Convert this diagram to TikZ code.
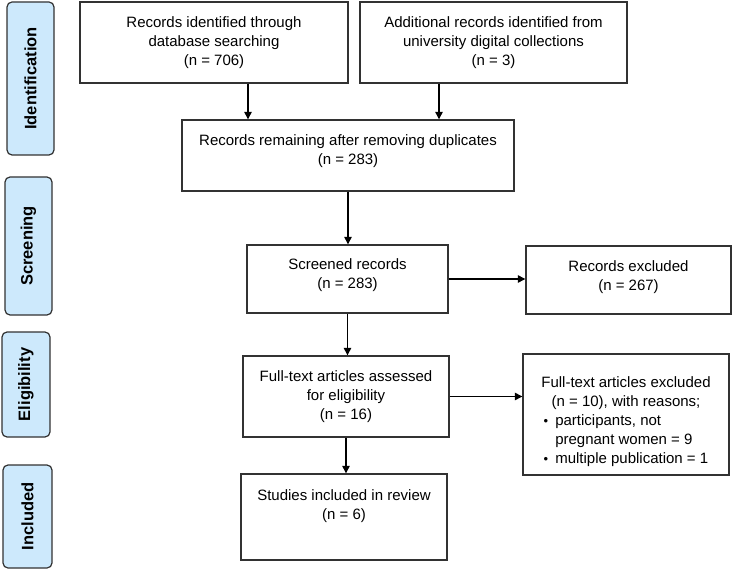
\documentclass[tikz,border=0pt]{standalone}
\usepackage{fontspec}
\setmainfont{Liberation Sans}
\usepackage{tikz}
\usetikzlibrary{arrows.meta,positioning}

\begin{document}
\begin{tikzpicture}[x=1pt, y=-1pt,
    box/.style={draw=boxline, line width=1.4pt, inner sep=0pt},
    boxtext/.style={align=center, inner sep=0pt, font=\fontsize{15}{19}\selectfont},
    stage/.style={draw=boxline, line width=1.2pt, fill=stagecolor, rounded corners=5pt,
        inner sep=0pt, font=\fontsize{16.5}{20}\selectfont\bfseries},
    arrow/.style={line width=1.3pt, -{Triangle[length=7.5pt, width=7.5pt]}}]

% Define colors
\definecolor{boxline}{RGB}{50,50,50}
\definecolor{stagecolor}{RGB}{205,233,252}

\useasboundingbox (0,0) rectangle (733,569);

% Helper for the flow boxes
\newcommand{\flowbox}[7]{%
    % #1 = name, #2/#3 = top left, #4/#5 = bottom right, #6 = text drop, #7 = text
    \node[box, minimum width={#4-#2}, minimum height={#5-#3}] (#1) at ({(#2+#4)/2},{(#3+#5)/2}) {};
    \node[boxtext, anchor=north] (#1-text) at ([yshift=-#6]#1.north) {#7};
}

% Helper for the stage labels on the left
\newcommand{\stagelabel}[6]{%
    % #1 = name, #2/#3 = top left, #4/#5 = bottom right, #6 = text
    \node[stage, rotate=90, minimum width={#5-#3}, minimum height={#4-#2}] (#1) at ({(#2+#4)/2},{(#3+#5)/2}) {#6};
}

% Stage labels
\stagelabel{identification}{7}{2}{54}{155}{Identification}
\stagelabel{screening}{5}{177}{52}{315}{Screening}
\stagelabel{eligibility}{2}{332}{50}{437}{Eligibility}
\stagelabel{included}{3}{465}{52}{568}{Included}

% Draw all boxes
\flowbox{ident}{80}{2}{348}{83}{15}{Records identified through\\database searching\\(n = 706)}
\flowbox{extra}{360}{2}{627}{83}{15}{Additional records identified from\\university digital collections\\(n = 3)}
\flowbox{dedup}{182}{120}{514}{191}{15}{Records remaining after removing duplicates\\(n = 283)}
\flowbox{screen}{247}{245}{448}{313}{14}{Screened records\\(n = 283)}
\flowbox{excl}{526}{246}{731}{314}{15}{Records excluded\\(n = 267)}
\flowbox{full}{243}{356}{449}{437}{15}{Full-text articles assessed\\for eligibility\\(n = 16)}
\flowbox{fullexcl}{523}{354}{729}{475}{23}{Full-text articles excluded\\(n = 10), with reasons;\\
    \begin{tabular}[t]{@{}l@{\hspace{7pt}}l@{}}
    {\fontsize{13}{19}\selectfont\textbullet} & participants, not\\
     & pregnant women = 9\\
    {\fontsize{13}{19}\selectfont\textbullet} & multiple publication = 1
    \end{tabular}}
\flowbox{incl}{241}{474}{447}{560}{16}{Studies included in review\\(n = 6)}

% Arrows
\draw[arrow] ([xshift=34]ident.south) -- ([xshift=34]ident.south |- dedup.north);
\draw[arrow] ([xshift=-54.5]extra.south) -- ([xshift=-54.5]extra.south |- dedup.north);
\draw[arrow] (dedup.south) -- (dedup.south |- screen.north);
\draw[arrow] (screen.south) -- (screen.south |- full.north);
\draw[arrow] (full.south) -- (full.south |- incl.north);
\draw[arrow] (screen.east) -- (screen.east -| excl.west);
\draw[arrow] (full.east) -- (full.east -| fullexcl.west);

\end{tikzpicture}
\end{document}
